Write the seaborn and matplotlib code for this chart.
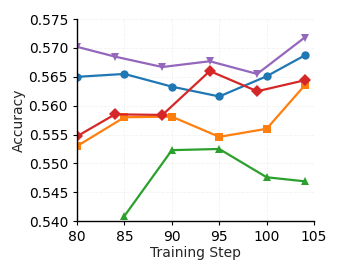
import matplotlib
matplotlib.use("Agg")
import matplotlib.pyplot as plt
import numpy as np
import pandas as pd
import seaborn as sns

# values
steps_a = [80, 85, 90, 95, 100, 104]
steps_b = [80, 84, 89, 94, 99, 104]
steps_green = [85, 90, 95, 100, 104]

blue_acc = [0.5650, 0.5655, 0.5633, 0.5616, 0.5651, 0.5687]
orange_acc = [0.5530, 0.5580, 0.5581, 0.5546, 0.5560, 0.5635]
green_acc = [0.5409, 0.5523, 0.5525, 0.5476, 0.5469]
red_acc = [0.5547, 0.5585, 0.5584, 0.5660, 0.5625, 0.5644]
purple_acc = [0.5702, 0.5685, 0.5667, 0.5677, 0.5655, 0.5718]

series = [
    (steps_a, blue_acc, "tab:blue", "o"),
    (steps_a, orange_acc, "tab:orange", "s"),
    (steps_green, green_acc, "tab:green", "^"),
    (steps_b, red_acc, "tab:red", "D"),
    (steps_b, purple_acc, "tab:purple", "v"),
]

sns.set_style("ticks", {"axes.edgecolor": "black", "xtick.color": "black",
                        "ytick.color": "black"})
fig = plt.figure(figsize=(3.41, 2.73), dpi=100)
ax = fig.add_axes([0.226, 0.19, 0.695, 0.74])

for xs, ys, color, marker in series:
    df = pd.DataFrame({"step": xs, "acc": ys})
    sns.lineplot(data=df, x="step", y="acc", ax=ax, color=color, marker=marker,
                 markersize=6, markeredgewidth=0, linewidth=1.6)

ax.set_xlim(80, 105)
ax.set_ylim(0.540, 0.575)
ax.set_xticks([80, 85, 90, 95, 100, 105])
ax.set_yticks(np.arange(0.540, 0.5751, 0.005))
ax.yaxis.set_major_formatter(matplotlib.ticker.FormatStrFormatter("%.3f"))
ax.tick_params(labelsize=10, length=3, width=0.8, colors="black")
ax.set_xlabel("Training Step", fontsize=10, labelpad=1)
ax.set_ylabel("Accuracy", fontsize=10, labelpad=2)
ax.grid(True, linestyle="--", alpha=0.25, linewidth=0.6)
for s in ("left", "bottom"):
    ax.spines[s].set_linewidth(1.0)
sns.despine(ax=ax)

fig.savefig("out.png", dpi=100)
